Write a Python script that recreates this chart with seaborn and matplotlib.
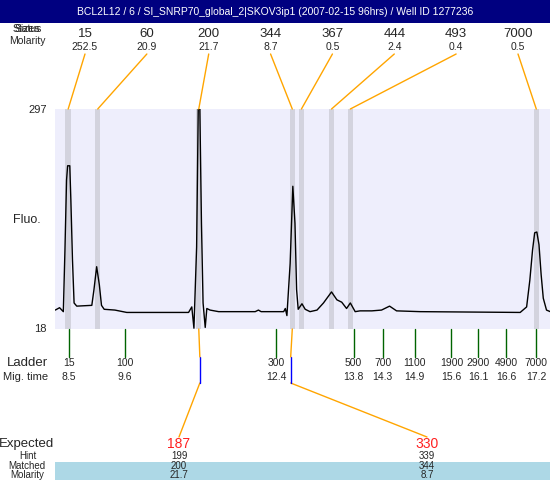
import matplotlib
matplotlib.use('Agg')
import numpy as np
import pandas as pd
import matplotlib.pyplot as plt
from matplotlib.patches import Rectangle
import seaborn as sns

sns.set_style('white')
plt.rcParams['font.family'] = ['Liberation Sans', 'DejaVu Sans']

title = "BCL2L12 / 6 / SI_SNRP70_global_2|SKOV3ip1 (2007-02-15 96hrs) / Well ID 1277236"

# electropherogram trace: migration time vs fluorescence
trace_time = [8.25, 8.33, 8.40, 8.43, 8.46, 8.48, 8.52, 8.54, 8.57, 8.60,
              8.65, 8.93, 8.97, 9.02, 9.07, 9.11, 9.16, 9.36, 9.58, 10.73,
              10.79, 10.83, 10.88, 10.91, 10.94, 10.97, 11.00, 11.04, 11.07, 11.13,
              11.29, 11.97, 12.03, 12.08, 12.50, 12.53, 12.56, 12.62, 12.67, 12.71,
              12.74, 12.77, 12.84, 12.90, 12.99, 13.12, 13.24, 13.39, 13.49, 13.58,
              13.67, 13.74, 13.83, 13.92, 14.14, 14.32, 14.47, 14.60, 15.04, 16.90,
              17.02, 17.08, 17.13, 17.17, 17.21, 17.25, 17.29, 17.33, 17.39, 17.46]
trace_fluo = [42, 45, 40, 118, 207, 225, 225, 182, 106, 51,
              47, 48, 68, 97, 74, 48, 43, 42, 39, 39,
              46, 19, 122, 297, 297, 152, 51, 20, 44, 42,
              40, 40, 42, 40, 40, 44, 35, 101, 199, 152,
              68, 43, 50, 43, 40, 42, 51, 65, 55, 52,
              44, 51, 40, 41, 41, 42, 47, 41, 40, 39,
              46, 80, 118, 140, 141, 125, 87, 57, 42, 40]

# detected peaks
peak_size = [15, 60, 200, 344, 367, 444, 493, 7000]
peak_molarity = [252.5, 20.9, 21.7, 8.7, 0.5, 2.4, 0.4, 0.5]
peak_time = [8.49, 9.04, 10.92, 12.66, 12.83, 13.39, 13.74, 17.20]

# ladder
ladder_size = [15, 100, 300, 500, 700, 1100, 1900, 2900, 4900, 7000]
ladder_time = [8.50, 9.55, 12.36, 13.80, 14.34, 14.94, 15.62, 16.12, 16.64, 17.20]

# expected products
expected_size = [187, 330]
expected_time = [10.94, 12.63]
hint_size = [199, 339]
matched_size = [200, 344]
matched_molarity = [21.7, 8.7]

ORANGE = '#ffa500'

fig = plt.figure(figsize=(5.5, 4.8), dpi=100)
ax = fig.add_axes([55 / 550, 1 - 329 / 480, 495 / 550, 220 / 480])
ax.set_facecolor('#eeeefc')
for t in peak_time:
    ax.axvspan(t - 0.05, t + 0.05, color='#d3d3de', lw=0)
df = pd.DataFrame({'time': trace_time, 'fluo': trace_fluo})
sns.lineplot(data=df, x='time', y='fluo', ax=ax, color='black', lw=1)
ax.set_xlim(8.245, 17.455)
ax.set_ylim(18, 297)
ax.set_xticks([])
ax.set_yticks([])
ax.set_xlabel('')
ax.set_ylabel('')
for s in ax.spines.values():
    s.set_visible(False)

# overlay in pixel coordinates for the text panels
ov = fig.add_axes([0, 0, 1, 1], facecolor='none')
ov.set_xlim(0, 550)
ov.set_ylim(480, 0)
ov.axis('off')


def to_px(t, f=18):
    return ov.transData.inverted().transform(ax.transData.transform((t, f)))


# header
ov.add_patch(Rectangle((0, 0), 550, 23, color='#000080', lw=0))
ov.text(275, 12, title, color='white', fontsize=7.5, ha='center', va='center')

# peak table at top
ov.text(27, 29, 'Status', fontsize=7.5, ha='center', va='center')
ov.text(27, 29, 'Sizes', fontsize=7.5, ha='center', va='center')
ov.text(27, 41, 'Molarity', fontsize=7.5, ha='center', va='center')
label_x = np.linspace(85, 518, len(peak_size))
for lx, size, mol, t in zip(label_x, peak_size, peak_molarity, peak_time):
    px = to_px(t)[0]
    ov.text(lx, 34, str(size), fontsize=9.5, ha='center', va='center')
    ov.text(lx, 47, f'{mol:.1f}', fontsize=7.5, ha='center', va='center')
    ov.plot([lx, px], [54, 109], color=ORANGE, lw=1)

# y labels
ov.text(47, 110, '297', fontsize=8, ha='right', va='center')
ov.text(47, 329, '18', fontsize=8, ha='right', va='center')
ov.text(27, 220, 'Fluo.', fontsize=9, ha='center', va='center')

# ladder
ov.text(27, 363, 'Ladder', fontsize=9.5, ha='center', va='center')
ov.text(26, 377, 'Mig. time', fontsize=8, ha='center', va='center')
for size, t in zip(ladder_size, ladder_time):
    px = to_px(t)[0]
    ov.plot([px, px], [329, 357], color='#006400', lw=1)
    ov.text(px, 363, str(size), fontsize=7.5, ha='center', va='center')
    ov.text(px, 377, f'{t:.1f}', fontsize=7.5, ha='center', va='center')

# expected / matched table
ov.add_patch(Rectangle((55, 462), 495, 18, color='#add8e6', lw=0))
ov.text(27, 444, 'Expected', fontsize=9.5, ha='center', va='center')
ov.text(28, 456, 'Hint', fontsize=7, ha='center', va='center')
ov.text(27, 466, 'Matched', fontsize=7, ha='center', va='center')
ov.text(27, 475, 'Molarity', fontsize=7, ha='center', va='center')
exp_label_x = [179, 427]
for lx, e, et, h, m, mm in zip(exp_label_x, expected_size, expected_time,
                               hint_size, matched_size, matched_molarity):
    ex = to_px(et)[0]
    pk = to_px(peak_time[peak_size.index(m)])[0]
    ov.plot([lx, ex], [437, 383], color=ORANGE, lw=1)
    ov.plot([ex, ex], [383, 357], color='blue', lw=1)
    ov.plot([ex, pk], [357, 329], color=ORANGE, lw=1)
    ov.text(lx, 444, str(e), color='#ff2020', fontsize=10, ha='center', va='center')
    ov.text(lx, 456, str(h), fontsize=7, ha='center', va='center')
    ov.text(lx, 466, str(m), fontsize=7, ha='center', va='center')
    ov.text(lx, 475, f'{mm:.1f}', fontsize=7, ha='center', va='center')

fig.savefig('out.png', dpi=100)
